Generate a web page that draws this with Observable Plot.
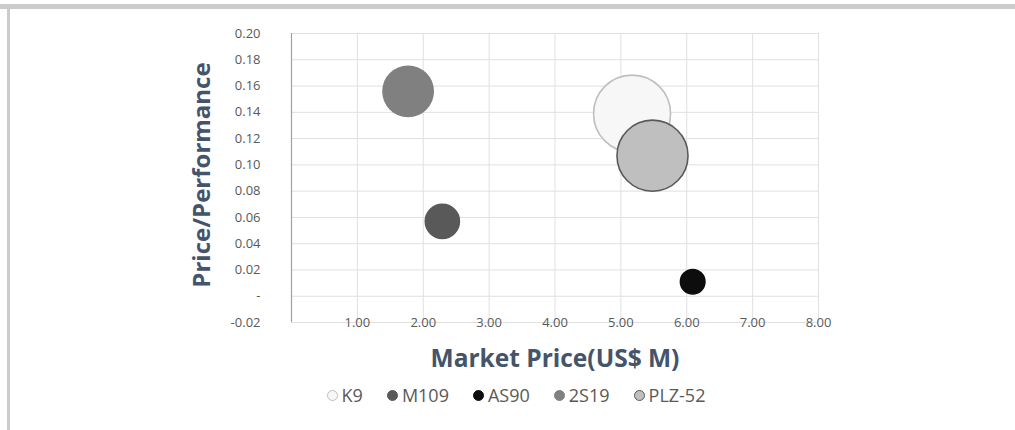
<!DOCTYPE html>
<html>
<head>
<meta charset="utf-8">
<script src="https://cdn.jsdelivr.net/npm/d3@7"></script>
<script src="https://cdn.jsdelivr.net/npm/@observablehq/plot@0.6"></script>
<style>
  html, body { margin: 0; padding: 0; background: #fff; }
  #frame { position: relative; width: 1015px; height: 430px; overflow: hidden; background: #fff;
           font-family: "Open Sans", "Noto Sans CJK KR", sans-serif; }
  #topbar { position: absolute; left: 0; top: 4px; width: 1015px; height: 5px; background: #cccccc; }
  #leftbar { position: absolute; left: 7px; top: 4px; width: 3px; height: 426px; background: #cccccc; }
  #chart { position: absolute; left: 0; top: 0; }
  #xtitle { position: absolute; left: 0; width: 1110px; top: 341px; text-align: center;
            font-size: 24.5px; font-weight: bold; color: #44546a; white-space: nowrap; }
  #legend { position: absolute; left: 0; width: 1032px; top: 383px; text-align: center;
            font-size: 18px; color: #595959; white-space: nowrap; }
  #legend span.item { display: inline-block; margin: 0 12px; }
  #legend span.sw { display: inline-block; width: 11px; height: 11px; border-radius: 50%;
                    box-sizing: border-box; margin-right: 4px; vertical-align: 1px; }
</style>
</head>
<body>
<div id="frame">
  <div id="topbar"></div>
  <div id="leftbar"></div>
  <div id="chart"></div>
  <div id="xtitle">Market Price(US$ M)</div>
  <div id="legend"></div>
</div>
<script>
// Self-propelled howitzers: market price vs. price/performance ratio
const names = ["K9", "M109", "AS90", "2S19", "PLZ-52"];
const marketPrice = [5.17, 2.29, 6.09, 1.77, 5.48];        // US$ M
const pricePerformance = [0.139, 0.057, 0.011, 0.156, 0.107];
const bubbleSize = [1.48, 0.29, 0.15, 0.63, 1.26];         // relative bubble size
const fills = ["#f7f7f7", "#595959", "#0d0d0d", "#808080", "#bfbfbf"];
const strokes = ["#bfbfbf", "#595959", "#0d0d0d", "#808080", "#595959"];

const xTicks = [1, 2, 3, 4, 5, 6, 7, 8];
const yTicks = [-0.02, 0, 0.02, 0.04, 0.06, 0.08, 0.10, 0.12, 0.14, 0.16, 0.18, 0.20];

const data = names.map((name, i) => ({
  name, x: marketPrice[i], y: pricePerformance[i], size: bubbleSize[i],
  fill: fills[i], stroke: strokes[i]
}));

const fmtY = d => (Math.abs(d) < 1e-9 ? "-" : d.toFixed(2));
const fmtX = d => d.toFixed(2);

const chart = Plot.plot({
  width: 1015,
  height: 340,
  marginLeft: 291,
  marginRight: 197,
  marginTop: 33,
  marginBottom: 18,
  style: { fontFamily: "'Open Sans', 'Noto Sans CJK KR', sans-serif", background: "transparent" },
  x: { domain: [0, 8], axis: null, label: null },
  y: { domain: [-0.02, 0.20], axis: null, label: null },
  r: { domain: [0, d3.max(bubbleSize)], range: [0, 38.5] },
  color: { type: "identity" },
  marks: [
    Plot.gridY(yTicks, { stroke: "#e0e0e0", strokeOpacity: 1 }),
    Plot.gridX(xTicks, { stroke: "#e0e0e0", strokeOpacity: 1 }),
    Plot.ruleX([0], { stroke: "#a0a0a0", strokeWidth: 1.2 }),
    Plot.axisY(yTicks, { label: null, tickSize: 0, tickPadding: 31, tickFormat: fmtY, fill: "#595959", fontSize: 13 }),
    Plot.axisX(xTicks, { label: null, tickSize: 0, tickPadding: 0, lineAnchor: "middle", tickFormat: fmtX, fill: "#595959", fontSize: 13 }),
    Plot.dot(data, {
      x: "x", y: "y", r: "size", fill: "fill", stroke: "stroke",
      strokeWidth: 1.6, fillOpacity: 1, sort: null
    }),
    Plot.text(["Price/Performance"], {
      frameAnchor: "left", textAnchor: "middle", rotate: -90, dx: -89, dy: -3,
      fontSize: 24, fontWeight: "bold", fill: "#44546a"
    })
  ]
});
document.getElementById("chart").appendChild(chart);

// Legend row under the axis title
const legend = document.getElementById("legend");
names.forEach((name, i) => {
  const item = document.createElement("span");
  item.className = "item";
  const sw = document.createElement("span");
  sw.className = "sw";
  sw.style.background = fills[i];
  sw.style.border = `1.5px solid ${strokes[i]}`;
  item.appendChild(sw);
  item.appendChild(document.createTextNode(name));
  legend.appendChild(item);
});
</script>
</body>
</html>
